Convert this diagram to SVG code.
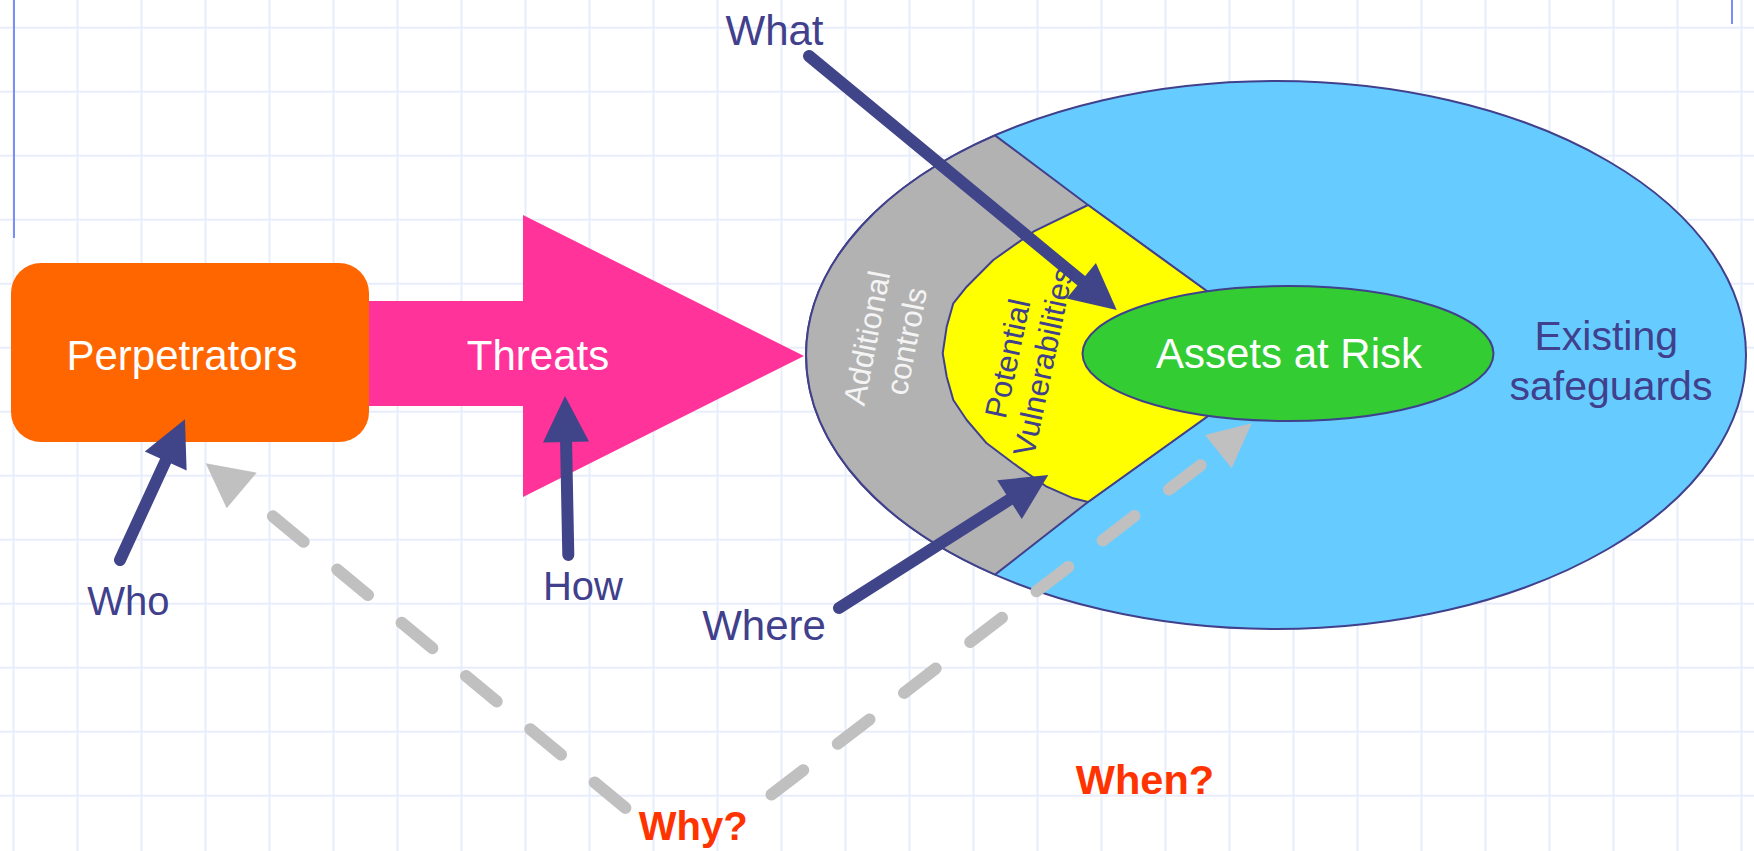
<svg xmlns="http://www.w3.org/2000/svg" width="1754" height="851" viewBox="0 0 1754 851">
  <defs>
    <pattern id="grid" x="-18.5" y="-4.3" width="64" height="64" patternUnits="userSpaceOnUse">
      <path d="M32 0V64M0 32H64" fill="none" stroke="#E8EDFB" stroke-width="2"/>
    </pattern>
    <style>
      .lbl { font-family: "Liberation Sans", Arial, sans-serif; }
      .white { fill: #FFFFFF; }
      .navy { fill: #40408C; }
      .q { fill: #FF3300; font-weight: bold; }
      .outline { stroke: #40408C; stroke-width: 2; stroke-linejoin: round; }
      .shaft { stroke: #404488; stroke-width: 12; stroke-linecap: round; fill: none; }
      .head { fill: #404488; }
      .dash { stroke: #C0C0C0; stroke-width: 12; stroke-linecap: round; stroke-dasharray: 40 43.5; fill: none; }
      .dhead { fill: #C0C0C0; }
    </style>
  </defs>

  <!-- background grid -->
  <rect width="1754" height="851" fill="#FFFFFF"/>
  <rect width="1754" height="851" fill="url(#grid)"/>
  <line x1="14" y1="0" x2="14" y2="238" stroke="#7890F8" stroke-width="2"/>
  <line x1="1732" y1="0" x2="1732" y2="24" stroke="#7890F8" stroke-width="2"/>

  <!-- threats arrow -->
  <g id="threats">
    <polygon points="369,301 523,301 523,215 804,356 523,497 523,406 369,406" fill="#FF3399"/>
    <text class="lbl white" x="538" y="370" font-size="42" text-anchor="middle">Threats</text>
  </g>

  <!-- perpetrators box -->
  <g id="perpetrators">
    <rect x="11" y="263" width="358" height="179" rx="30" ry="30" fill="#FF6600"/>
    <text class="lbl white" x="182" y="370" font-size="42" text-anchor="middle">Perpetrators</text>
  </g>

  <!-- existing safeguards -->
  <g id="safeguards">
    <ellipse cx="1276" cy="355" rx="470" ry="274" fill="#66CCFF" class="outline"/>
    <text class="lbl navy" font-size="41" text-anchor="middle">
      <tspan x="1612" y="350">Existing</tspan>
      <tspan x="1611" y="400">safeguards</tspan>
    </text>
  </g>

  <!-- additional controls band -->
  <g id="controls">
    <path d="M995 135.4 A470 274 0 0 0 995 574.6 L1088 502 L1215 411 L1215 297 L1088 205 Z" fill="#B2B2B2" class="outline"/>
    <text class="lbl" fill="#F4F4F4" font-size="31" text-anchor="middle" transform="translate(886.5 337.4) rotate(-79)">
      <tspan x="0" y="-8.5">Additional</tspan>
      <tspan x="0" y="31">controls</tspan>
    </text>
  </g>

  <!-- potential vulnerabilities band -->
  <g id="vulnerabilities">
    <path d="M1088 205 L1215 297 L1215 411 L1088 502 L1073.3 498.3 L1046.7 486.7 L1013.3 463.3 L986.7 443.3 L966.7 420 L953.3 400 L946.7 376.7 L942.7 353.3 L946.7 326.7 L953.3 303.3 L966.7 286.7 L993.3 260 L1033.3 231.7 Z" fill="#FFFF00" class="outline"/>
  </g>

  <!-- assets at risk -->
  <g id="assets">
    <ellipse cx="1288" cy="353.5" rx="205.5" ry="67.5" fill="#33CC33" class="outline"/>
    <text class="lbl white" x="1289" y="368" font-size="42" text-anchor="middle">Assets at Risk</text>
  </g>

  <!-- question connectors -->
  <g id="connectors">
    <!-- what -->
    <line class="shaft" x1="809" y1="56" x2="1084" y2="283"/>
    <polygon class="head" points="1116.7,310 1066.6,298.4 1095.9,263"/>
    <!-- who -->
    <line class="shaft" x1="120" y1="560" x2="167" y2="458"/>
    <polygon class="head" points="185,419.3 144.8,451.4 186.6,470.6"/>
    <!-- how -->
    <line class="shaft" x1="568.3" y1="555" x2="566" y2="438"/>
    <polygon class="head" points="565,396 543,442.5 589,441.5"/>
    <!-- where -->
    <line class="shaft" x1="839" y1="608" x2="1012" y2="498"/>
    <polygon class="head" points="1048.3,475 997.2,480.3 1021.8,519.1"/>
    <!-- why: dashed paths -->
    <path class="dash" d="M625.4 807.9 L241.7 490.5"/>
    <polygon class="dhead" points="205.7,463.3 256.7,472.7 226.7,508.3"/>
    <path class="dash" d="M771.5 794.6 L1218.3 451.7"/>
    <polygon class="dhead" points="1251.7,423.3 1205,435 1231.7,468.3"/>
  </g>

  <g id="vulnerabilities-label">
    <text class="lbl navy" font-size="31" text-anchor="middle" transform="translate(1025.3 357.8) rotate(-78)">
      <tspan x="0" y="-6.5">Potential</tspan>
      <tspan x="0" y="29">Vulnerabilities</tspan>
    </text>
  </g>

  <!-- question labels -->
  <g id="labels">
    <text class="lbl navy" x="774.5" y="45" font-size="42" text-anchor="middle">What</text>
    <text class="lbl navy" x="128.3" y="615" font-size="40" text-anchor="middle">Who</text>
    <text class="lbl navy" x="583" y="600" font-size="40" text-anchor="middle">How</text>
    <text class="lbl navy" x="764" y="640" font-size="42" text-anchor="middle">Where</text>
    <text class="lbl q" x="693.3" y="840" font-size="40" text-anchor="middle">Why?</text>
    <text class="lbl q" x="1145" y="794" font-size="41.5" text-anchor="middle">When?</text>
  </g>
</svg>
